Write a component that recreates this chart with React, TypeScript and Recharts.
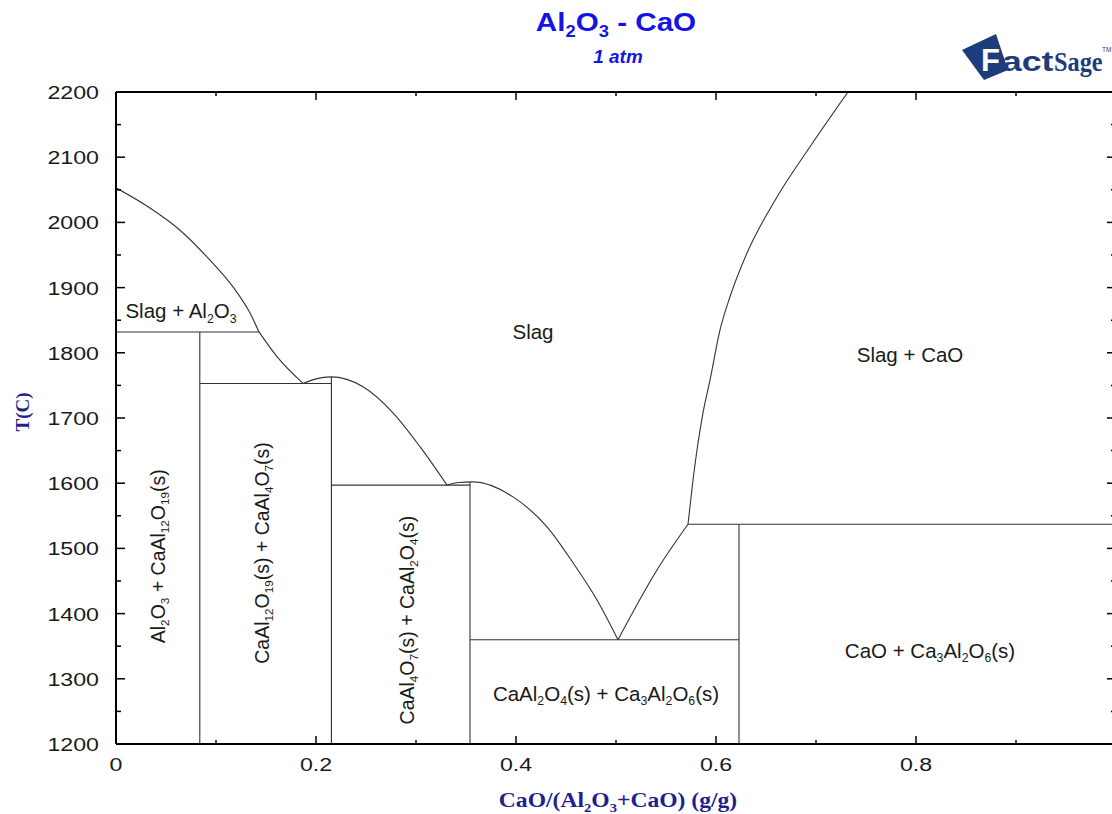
import React from 'react';
import { LineChart, Line, XAxis, YAxis, ReferenceDot } from 'recharts';

const SANS = '"Liberation Sans", Arial, sans-serif';
const SERIF = '"Liberation Serif", "Times New Roman", serif';
const NAVY = '#1f1f8f';
const BLUE = '#1414e6';
const LOGO = '#1d3c7c';

// ---- Tick values ----
const xMajor = [0, 0.2, 0.4, 0.6, 0.8, 1.0];
const xMajorLabels = ['0', '0.2', '0.4', '0.6', '0.8', ''];
const xMinor = [0.1, 0.3, 0.5, 0.7, 0.9];
const yMajor = [1200, 1300, 1400, 1500, 1600, 1700, 1800, 1900, 2000, 2100, 2200];
const yMinor = [1250, 1350, 1450, 1550, 1650, 1750, 1850, 1950, 2050, 2150];

// ---- Liquidus curves (x = CaO mass fraction, t = temperature °C) ----
const liqAl2O3 = [
  { x: 0, t: 2053 }, { x: 0.034, t: 2022 }, { x: 0.064, t: 1988 }, { x: 0.094, t: 1942 },
  { x: 0.117, t: 1901 }, { x: 0.134, t: 1861 }, { x: 0.143, t: 1832 },
];
const liqCA6 = [{ x: 0.143, t: 1832 }, { x: 0.161, t: 1794 }, { x: 0.187, t: 1753 }];
const liqCA2 = [
  { x: 0.187, t: 1753 }, { x: 0.2, t: 1760 }, { x: 0.215, t: 1763 }, { x: 0.247, t: 1748 },
  { x: 0.277, t: 1708 }, { x: 0.304, t: 1656 }, { x: 0.331, t: 1597 },
];
const liqCA = [
  { x: 0.331, t: 1597 }, { x: 0.343, t: 1601 }, { x: 0.357, t: 1602 }, { x: 0.397, t: 1579 },
  { x: 0.431, t: 1533 }, { x: 0.457, t: 1478 }, { x: 0.481, t: 1421 }, { x: 0.502, t: 1360 },
];
const liqC3A = [{ x: 0.502, t: 1360 }, { x: 0.541, t: 1467 }, { x: 0.572, t: 1537 }];
const liqCaO = [
  { x: 0.572, t: 1537 }, { x: 0.577, t: 1605 }, { x: 0.587, t: 1708 }, { x: 0.594, t: 1758 },
  { x: 0.604, t: 1835 }, { x: 0.614, t: 1886 }, { x: 0.631, t: 1953 }, { x: 0.661, t: 2039 },
  { x: 0.694, t: 2116 }, { x: 0.732, t: 2200 },
];

// ---- Invariant (horizontal) lines ----
const iso1832 = [{ x: 0, t: 1832 }, { x: 0.143, t: 1832 }];
const iso1753 = [{ x: 0.0838, t: 1753 }, { x: 0.2154, t: 1753 }];
const iso1597 = [{ x: 0.2154, t: 1597 }, { x: 0.354, t: 1597 }];
const iso1360 = [{ x: 0.354, t: 1360 }, { x: 0.623, t: 1360 }];
const iso1537 = [{ x: 0.572, t: 1537 }, { x: 1.0, t: 1537 }];

// ---- Compound (vertical) lines ----
const compCA6 = [{ x: 0.0838, t: 1832 }, { x: 0.0838, t: 1200 }];
const compCA2 = [{ x: 0.2154, t: 1763 }, { x: 0.2154, t: 1200 }];
const compCA = [{ x: 0.354, t: 1602 }, { x: 0.354, t: 1200 }];
const compC3A = [{ x: 0.623, t: 1537 }, { x: 0.623, t: 1200 }];

const curves = [liqAl2O3, liqCA6, liqCA2, liqCA, liqC3A, liqCaO];
const straights = [iso1832, iso1753, iso1597, iso1360, iso1537, compCA6, compCA2, compCA, compC3A];

// ---- Phase field labels (text, position in data units) ----
const phaseLabels = [
  { text: 'Slag + Al_2O_3', x: 0.065, t: 1864, vertical: false },
  { text: 'Slag', x: 0.417, t: 1832, vertical: false },
  { text: 'Slag + CaO', x: 0.794, t: 1797, vertical: false },
  { text: 'CaO + Ca_3Al_2O_6(s)', x: 0.814, t: 1344, vertical: false },
  { text: 'CaAl_2O_4(s) + Ca_3Al_2O_6(s)', x: 0.49, t: 1278, vertical: false },
  { text: 'Al_2O_3 + CaAl_12O_19(s)', x: 0.042, t: 1488, vertical: true },
  { text: 'CaAl_12O_19(s) + CaAl_4O_7(s)', x: 0.146, t: 1493, vertical: true },
  { text: 'CaAl_4O_7(s) + CaAl_2O_4(s)', x: 0.291, t: 1390, vertical: true },
];

const xTicks = [...xMajor, ...xMinor].sort((a, b) => a - b);
const yTicks = [...yMajor, ...yMinor].sort((a, b) => a - b);

function richParts(text: string, size: number, subRatio = 0.6, subShift = 0.2) {
  const pieces = text.split(/_(\d+)/);
  const out: React.ReactNode[] = [];
  let shift = 0;
  pieces.forEach((s, i) => {
    if (!s) return;
    const sub = i % 2 === 1;
    const target = sub ? size * subShift : 0;
    const dy = target - shift;
    shift = target;
    out.push(
      <tspan key={i} dy={dy !== 0 ? dy : undefined} fontSize={sub ? size * subRatio : size}>
        {s}
      </tspan>
    );
  });
  return out;
}

const TICK_FS = 19;
const TICK_SX = 1.22;
const LBL_FS = 20.5;
const VLBL_FS = 19.5;

function BottomTick(props: any) {
  const { x, y, payload } = props;
  const v = payload.value;
  const idx = xMajor.indexOf(v);
  const major = idx >= 0;
  return (
    <g>
      <line x1={x} x2={x} y1={y} y2={y - (major ? 8 : 4)} stroke="#000" strokeWidth={1.5} />
      {major && xMajorLabels[idx] ? (
        <text
          transform={`translate(${x},${y + 27}) scale(${TICK_SX},1)`}
          textAnchor="middle"
          fontFamily={SANS}
          fontSize={TICK_FS}
          fill="#1a1a1a"
        >
          {xMajorLabels[idx]}
        </text>
      ) : null}
    </g>
  );
}

function TopTick(props: any) {
  const { x, y, payload } = props;
  const major = xMajor.indexOf(payload.value) >= 0;
  return <line x1={x} x2={x} y1={y} y2={y + (major ? 8 : 4)} stroke="#000" strokeWidth={1.5} />;
}

function LeftTick(props: any) {
  const { x, y, payload } = props;
  const major = yMajor.indexOf(payload.value) >= 0;
  return (
    <g>
      <line x1={x} x2={x + (major ? 9 : 5)} y1={y} y2={y} stroke="#000" strokeWidth={1.5} />
      {major ? (
        <text
          transform={`translate(${x - 17},${y + 7}) scale(${TICK_SX},1)`}
          textAnchor="end"
          fontFamily={SANS}
          fontSize={TICK_FS}
          fill="#1a1a1a"
        >
          {payload.value}
        </text>
      ) : null}
    </g>
  );
}

function RightTick(props: any) {
  const { x, y, payload } = props;
  const major = yMajor.indexOf(payload.value) >= 0;
  return <line x1={x} x2={x - (major ? 9 : 5)} y1={y} y2={y} stroke="#000" strokeWidth={1.5} />;
}

function makeLabel(text: string, vertical: boolean) {
  const fs = vertical ? VLBL_FS : LBL_FS;
  return (p: any) => {
    const vb = p.viewBox || {};
    const cx = (vb.x ?? 0) + (vb.width ?? 0) / 2;
    const cy = (vb.y ?? 0) + (vb.height ?? 0) / 2;
    const tr = vertical ? `translate(${cx},${cy}) rotate(-90)` : `translate(${cx},${cy})`;
    return (
      <text
        transform={tr}
        x={0}
        y={fs * 0.36}
        textAnchor="middle"
        fontFamily={SANS}
        fontSize={fs}
        fill="#1a1a1a"
      >
        {richParts(text, fs)}
      </text>
    );
  };
}

const axisLineStyle = { stroke: '#000', strokeWidth: 2 };

export default function App() {
  return (
    <div
      style={{
        position: 'fixed',
        left: 0,
        top: 0,
        width: 1112,
        height: 814,
        overflow: 'hidden',
        background: '#fff',
      }}
    >
      <LineChart width={1124} height={814} margin={{ top: 62, right: 0, bottom: 30, left: 56 }}>
        <XAxis
          xAxisId="b"
          type="number"
          dataKey="x"
          domain={[0, 1]}
          allowDataOverflow
          ticks={xTicks}
          interval={0}
          tickSize={0}
          tickMargin={0}
          tickLine={false}
          tick={(p: any) => <BottomTick {...p} />}
          height={40}
          axisLine={axisLineStyle}
        />
        <XAxis
          xAxisId="t"
          orientation="top"
          type="number"
          dataKey="x"
          domain={[0, 1]}
          allowDataOverflow
          ticks={xTicks}
          interval={0}
          tickSize={0}
          tickMargin={0}
          tickLine={false}
          tick={(p: any) => <TopTick {...p} />}
          height={30}
          axisLine={axisLineStyle}
        />
        <YAxis
          yAxisId="l"
          type="number"
          dataKey="t"
          domain={[1200, 2200]}
          allowDataOverflow
          ticks={yTicks}
          interval={0}
          tickSize={0}
          tickMargin={0}
          tickLine={false}
          tick={(p: any) => <LeftTick {...p} />}
          width={60}
          axisLine={axisLineStyle}
        />
        <YAxis
          yAxisId="r"
          orientation="right"
          type="number"
          dataKey="t"
          domain={[1200, 2200]}
          allowDataOverflow
          ticks={yTicks}
          interval={0}
          tickSize={0}
          tickMargin={0}
          tickLine={false}
          tick={(p: any) => <RightTick {...p} />}
          width={8}
          axisLine={axisLineStyle}
        />
        {curves.map((d, i) => (
          <Line
            key={'c' + i}
            xAxisId="b"
            yAxisId="l"
            data={d}
            dataKey="t"
            type="monotone"
            stroke="#333"
            strokeWidth={1.1}
            dot={false}
            activeDot={false}
            isAnimationActive={false}
          />
        ))}
        {straights.map((d, i) => (
          <Line
            key={'s' + i}
            xAxisId="b"
            yAxisId="l"
            data={d}
            dataKey="t"
            type="linear"
            stroke="#333"
            strokeWidth={1.1}
            dot={false}
            activeDot={false}
            isAnimationActive={false}
          />
        ))}
        {phaseLabels.map((l, i) => (
          <ReferenceDot
            key={'l' + i}
            xAxisId="b"
            yAxisId="l"
            x={l.x}
            y={l.t}
            r={0}
            fill="none"
            stroke="none"
            label={makeLabel(l.text, l.vertical)}
          />
        ))}
      </LineChart>
      <svg
        width={1112}
        height={814}
        style={{ position: 'absolute', left: 0, top: 0, pointerEvents: 'none' }}
      >
        <text
          transform="translate(616,31) scale(1.14,1)"
          textAnchor="middle"
          fontFamily={SANS}
          fontWeight="bold"
          fontSize={26}
          fill={BLUE}
        >
          {richParts('Al_2O_3 - CaO', 26, 0.62, 0.24)}
        </text>
        <text
          transform="translate(618,63) scale(1.05,1)"
          textAnchor="middle"
          fontFamily={SANS}
          fontStyle="italic"
          fontWeight="bold"
          fontSize={18}
          fill={BLUE}
        >
          1 atm
        </text>
        <text
          transform="translate(29,412) rotate(-90)"
          textAnchor="middle"
          fontFamily={SERIF}
          fontWeight="bold"
          fontSize={19}
          fill={NAVY}
        >
          T(C)
        </text>
        <text
          transform="translate(618,807) scale(1.18,1)"
          textAnchor="middle"
          fontFamily={SERIF}
          fontWeight="bold"
          fontSize={20}
          fill={NAVY}
        >
          {richParts('CaO/(Al_2O_3+CaO) (g/g)', 20, 0.62, 0.24)}
        </text>
        {/* FactSage logo */}
        <polygon points="962,50 996,34 1008,70 984,80" fill={LOGO} />
        <text x={981} y={71} fontFamily={SANS} fontWeight="bold" fontSize={31} fill="#fff">
          F
        </text>
        <text
          transform="translate(1002,71) scale(1.27,1)"
          fontFamily={SANS}
          fontWeight="bold"
          fontSize={28}
          fill={LOGO}
        >
          act
        </text>
        <text
          transform="translate(1054,71) scale(0.9,1)"
          fontFamily={SERIF}
          fontWeight="bold"
          fontSize={27}
          fill={LOGO}
        >
          Sage
        </text>
        <text x={1102} y={52} fontFamily={SANS} fontSize={6.5} fill={LOGO}>
          TM
        </text>
      </svg>
    </div>
  );
}
